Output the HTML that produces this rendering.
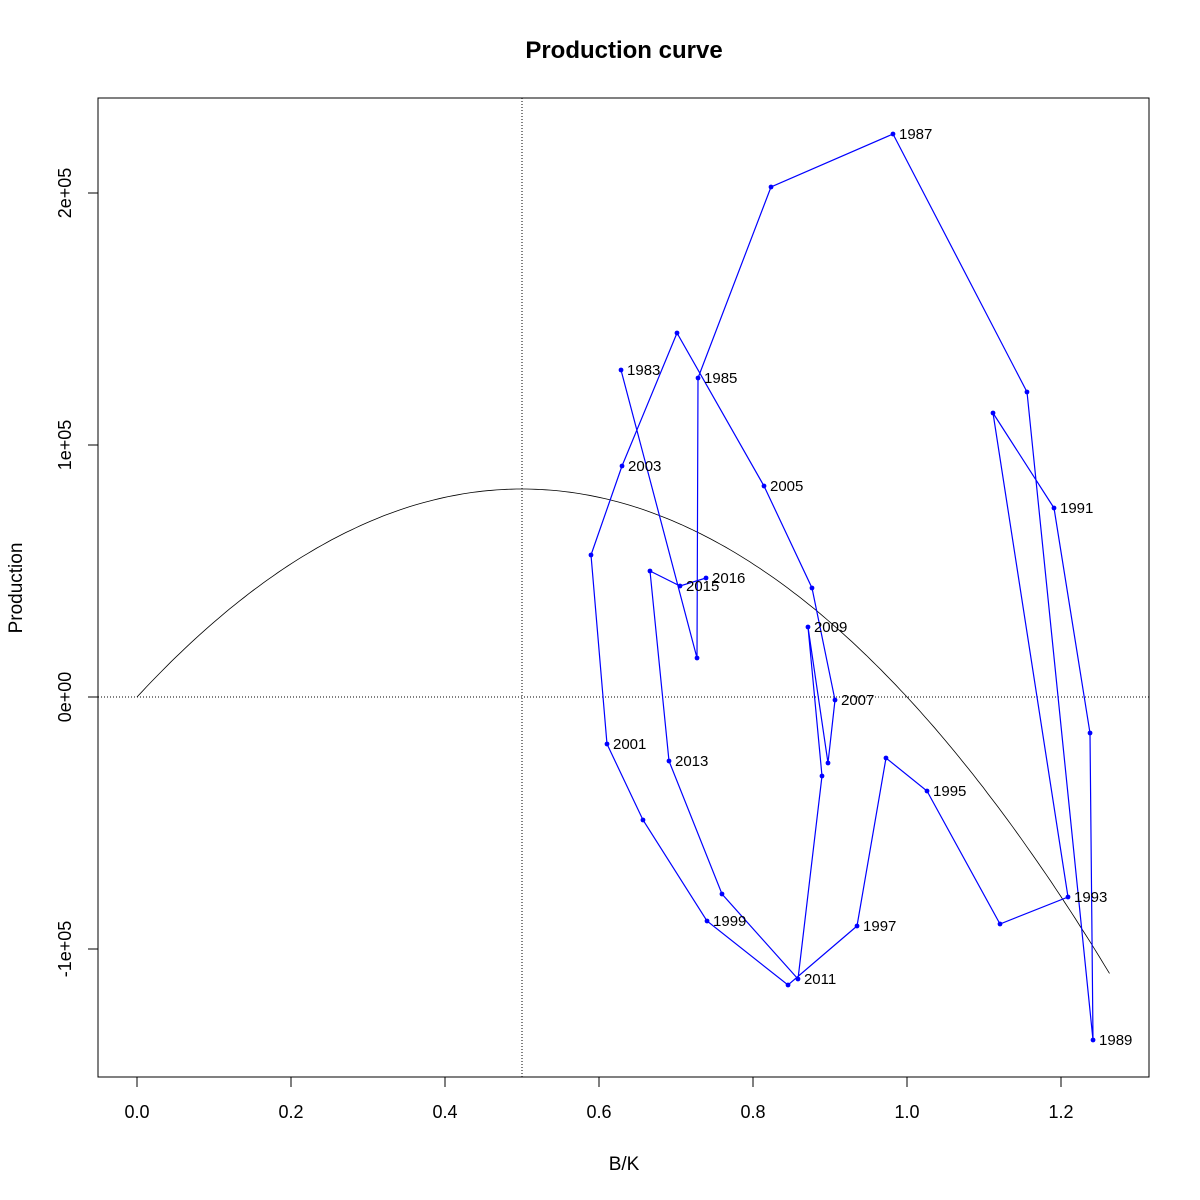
<!DOCTYPE html>
<html><head><meta charset="utf-8"><style>body{margin:0;background:#fff}svg{display:block;font-family:"Liberation Sans","DejaVu Sans",sans-serif}</style></head>
<body>
<svg id="chart" width="1200" height="1200">
<rect width="1200" height="1200" fill="#fff"/>
<text x="624" y="58" text-anchor="middle" font-size="24" font-weight="bold">Production curve</text>
<rect x="98" y="98" width="1051" height="979" fill="none" stroke="#000"/>
<text x="624" y="1170" text-anchor="middle" font-size="19">B/K</text>
<text transform="translate(22,588) rotate(-90)" text-anchor="middle" font-size="19">Production</text>
<g id="axes"></g>
<g id="marks"></g>
</svg>
<script>
const years=[1983,1984,1985,1986,1987,1988,1989,1990,1991,1992,1993,1994,1995,1996,1997,1998,1999,2000,2001,2002,2003,2004,2005,2006,2007,2008,2009,2010,2011,2012,2013,2014,2015,2016];
const bk=[0.6286,0.7273,0.7286,0.8234,0.9818,1.1558,1.2416,1.2377,1.1909,1.1117,1.2091,1.1208,1.0260,0.9727,0.9351,0.8455,0.7403,0.6571,0.6104,0.5896,0.6299,0.7013,0.8143,0.8766,0.9065,0.8974,0.8714,0.8896,0.8584,0.7597,0.6909,0.6662,0.7052,0.7390];
const prod=[129762,15476,126587,202381,223413,121032,-136111,-14286,75000,112698,-79365,-90079,-37302,-24206,-90873,-114286,-88889,-48810,-18651,56349,91667,144444,83730,43254,-1190,-26190,27778,-31349,-111905,-78175,-25397,50000,44048,47222];
const xTicks=[0,0.2,0.4,0.6,0.8,1.0,1.2];
const xTickLabels=["0.0","0.2","0.4","0.6","0.8","1.0","1.2"];
const yTicks=[-100000,0,100000,200000];
const yTickLabels=["-1e+05","0e+00","1e+05","2e+05"];
const msy=82540;
const kMax=1.263;
const NS="http://www.w3.org/2000/svg";
const X=v=>137+770*v;
const Y=v=>697-252*v/1e5;
function mk(tag,attrs,parent,txt){const e=document.createElementNS(NS,tag);for(const k in attrs)e.setAttribute(k,attrs[k]);if(txt!==undefined)e.textContent=txt;parent.appendChild(e);return e;}
const ax=document.getElementById('axes'),mg=document.getElementById('marks');
mk('line',{x1:X(xTicks[0]),x2:X(xTicks[xTicks.length-1]),y1:1077,y2:1077,stroke:'#000'},ax);
xTicks.forEach((t,i)=>{
  const l=mk('line',{x1:X(t),x2:X(t),y1:1077,y2:1087,stroke:'#000'},ax);
  
  
  const tx=mk('text',{x:X(t),y:1118,'text-anchor':'middle','font-size':18},ax,xTickLabels[i]);
  
  
});
mk('line',{x1:98,x2:88,y1:Y(yTicks[0]),y2:Y(yTicks[0]),stroke:'#000'},ax);
mk('line',{x1:98,x2:98,y1:Y(yTicks[0]),y2:Y(yTicks[yTicks.length-1]),stroke:'#000'},ax);
yTicks.forEach((t,i)=>{
  const l=mk('line',{x1:88,x2:98,y1:Y(t),y2:Y(t),stroke:'#000'},ax);
  
  
  const tx=mk('text',{transform:`translate(71,${Y(t)}) rotate(-90)`,'text-anchor':'middle','font-size':18},ax,yTickLabels[i]);
  
  
});
const vl=mk('line',{x1:X(0.5),x2:X(0.5),y1:98,y2:1077,stroke:'#000','stroke-dasharray':'1,2','stroke-width':1},mg);


const hl=mk('line',{x1:98,x2:1149,y1:Y(0),y2:Y(0),stroke:'#000','stroke-dasharray':'1,2','stroke-width':1},mg);


let d='';
for(let i=0;i<=200;i++){const b=kMax*i/200;const p=4*msy*b*(1-b);d+=(i?'L':'M')+X(b).toFixed(1)+','+Y(p).toFixed(1);}
const cv=mk('path',{d:d,fill:'none',stroke:'#000','stroke-width':0.8},mg);


const pts=bk.map((b,i)=>X(b).toFixed(1)+','+Y(prod[i]).toFixed(1)).join(' ');
const pl=mk('polyline',{points:pts,fill:'none',stroke:'#0000ff','stroke-width':1.2},mg);


bk.forEach((b,i)=>{
  const c=mk('circle',{cx:X(b),cy:Y(prod[i]),r:2.4,fill:'#0000ff'},mg);
  
  
  if(years[i]%2===1||i===years.length-1){
    const t=mk('text',{x:X(b)+6,y:Y(prod[i])+5,'font-size':15},mg,String(years[i]));
    
    
  }
});
</script>
</body></html>
